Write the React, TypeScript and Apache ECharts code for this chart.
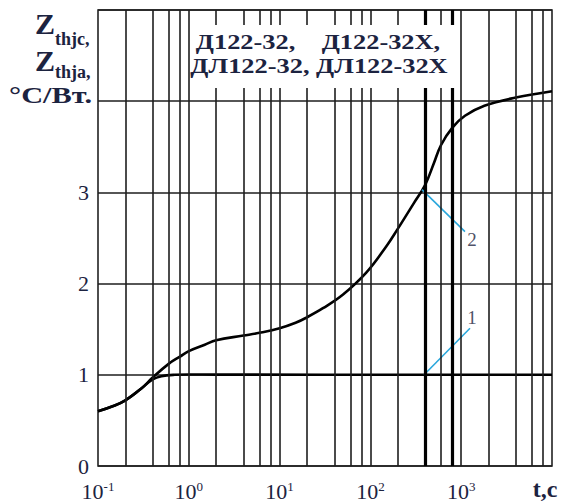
import React, { useEffect, useRef } from "react";
import * as echarts from "echarts";

// Curve 2 (upper curve): time, s -> Z, °C/W
const curve2T = [0.1, 0.15, 0.2, 0.3, 0.4, 0.6, 0.8, 1, 1.5, 2, 4, 6, 10, 15, 20, 30, 50, 90, 150, 200, 300, 400, 500, 600, 800, 1100, 1800, 4000, 10000];
const curve2Z = [0.6, 0.66, 0.72, 0.85, 0.97, 1.12, 1.2, 1.26, 1.33, 1.38, 1.43, 1.46, 1.51, 1.57, 1.63, 1.73, 1.88, 2.12, 2.41, 2.6, 2.88, 3.08, 3.32, 3.52, 3.71, 3.84, 3.95, 4.04, 4.11];
// Curve 1 (lower curve)
const curve1T = [0.1, 0.15, 0.2, 0.3, 0.4, 0.5, 0.7, 1, 2, 10000];
const curve1Z = [0.6, 0.66, 0.72, 0.85, 0.95, 0.985, 1.0, 1.003, 1.002, 1.0];

// vertical grid lines (log scale, 1-2-4-6-8 per decade)
const gridTimes = [0.2, 0.4, 0.6, 0.8, 1, 2, 4, 6, 8, 10, 20, 40, 60, 80, 100, 200, 600, 1000, 2000, 4000, 6000, 8000];
const boldTimes = [400, 800];

// leader lines for curve labels
const leader1T = [390, 1250];
const leader1Z = [1.0, 1.51];
const leader2T = [370, 1100];
const leader2Z = [3.03, 2.57];
const labelNames = ["1", "2"];
const labelT = [1315, 1315];
const labelZ = [1.63, 2.48];

const yTickLabels = ["0", "1", "2", "3"];
const titleLine1 = "Д122-32,    Д122-32X,";
const titleLine2 = "ДЛ122-32, ДЛ122-32X";

const SERIF = '"Liberation Serif", "Times New Roman", serif';
const INK = "#1c2340";

export default function App() {
  const ref = useRef<HTMLDivElement>(null);
  useEffect(() => {
    if (!ref.current) return;
    const chart = echarts.init(ref.current, null, { renderer: "svg" });
    const gridColor = "#1e1e1e";
    chart.setOption({
      animation: false,
      backgroundColor: "#ffffff",
      grid: {
        left: 98,
        right: 16,
        top: 10,
        bottom: 36,
        show: true,
        borderColor: "#222",
        borderWidth: 1.6,
      },
      xAxis: {
        type: "log",
        logBase: 10,
        min: 0.1,
        max: 10000,
        axisLine: { show: false },
        axisTick: { show: false },
        splitLine: { show: false },
        minorSplitLine: { show: false },
        axisLabel: {
          margin: 14,
          formatter: (v: number) => {
            const e = Math.round(Math.log10(v));
            if (e >= 4) return "";
            return `{b|10}{s|${e}}`;
          },
          rich: {
            b: { fontFamily: SERIF, fontSize: 22, color: INK, lineHeight: 22 },
            s: { fontFamily: SERIF, fontSize: 13, color: INK, verticalAlign: "top", lineHeight: 13 },
          },
        },
      },
      yAxis: {
        type: "value",
        min: 0,
        max: 5,
        interval: 1,
        axisLine: { show: false },
        axisTick: { show: false },
        splitLine: { show: true, lineStyle: { color: gridColor, width: 1.6 } },
        axisLabel: {
          margin: 9,
          fontFamily: SERIF,
          fontSize: 22,
          color: INK,
          formatter: (v: number) => (v < yTickLabels.length ? yTickLabels[v] : ""),
        },
      },
      series: [
        {
          type: "line",
          z: 1,
          data: [[0.1, 0]],
          symbol: "none",
          lineStyle: { opacity: 0 },
          silent: true,
          markLine: {
            silent: true,
            symbol: ["none", "none"],
            label: { show: false },
            lineStyle: { color: gridColor, width: 1.6, type: "solid" },
            data: [
              ...gridTimes.map((t) => ({ xAxis: t })),
              ...boldTimes.map((t) => ({ xAxis: t, lineStyle: { color: "#000", width: 3.2, type: "solid" } })),
            ],
          },
        },
        {
          type: "line",
          z: 3,
          smooth: 0.4,
          symbol: "none",
          lineStyle: { color: "#000", width: 2.6 },
          data: curve1T.map((t, i) => [t, curve1Z[i]]),
        },
        {
          type: "line",
          z: 3,
          smooth: 0.4,
          symbol: "none",
          lineStyle: { color: "#000", width: 2.6 },
          data: curve2T.map((t, i) => [t, curve2Z[i]]),
        },
        {
          type: "line",
          z: 4,
          symbol: "none",
          lineStyle: { color: "#2aa7dc", width: 1.6 },
          data: leader1T.map((t, i) => [t, leader1Z[i]]),
        },
        {
          type: "line",
          z: 4,
          symbol: "none",
          lineStyle: { color: "#2aa7dc", width: 1.6 },
          data: leader2T.map((t, i) => [t, leader2Z[i]]),
        },
        {
          type: "scatter",
          z: 5,
          symbolSize: 0,
          label: {
            show: true,
            position: "inside",
            fontFamily: SERIF,
            fontSize: 19,
            color: INK,
            formatter: (p: any) => labelNames[p.dataIndex],
          },
          data: labelT.map((t, i) => [t, labelZ[i]]),
        },
      ],
      graphic: [
        {
          type: "rect",
          z: 100,
          shape: { x: 191, y: 25, width: 267, height: 63 },
          style: { fill: "#ffffff" },
        },
        {
          type: "text",
          z: 101,
          x: 318,
          y: 41,
          scaleX: 1.2,
          style: { text: titleLine1, font: `bold 22px ${SERIF}`, fill: INK, align: "center", verticalAlign: "middle" },
        },
        {
          type: "text",
          z: 101,
          x: 319,
          y: 65.5,
          scaleX: 1.2,
          style: { text: titleLine2, font: `bold 22px ${SERIF}`, fill: INK, align: "center", verticalAlign: "middle" },
        },
        {
          type: "text",
          z: 101,
          x: 35,
          y: 23,
          style: { text: "Z", font: `bold 30px ${SERIF}`, fill: INK, align: "left", verticalAlign: "middle" },
        },
        {
          type: "text",
          z: 101,
          x: 55,
          y: 39,
          style: { text: "thjc,", font: `bold 18px ${SERIF}`, fill: INK, align: "left", verticalAlign: "middle" },
        },
        {
          type: "text",
          z: 101,
          x: 35,
          y: 60,
          style: { text: "Z", font: `bold 30px ${SERIF}`, fill: INK, align: "left", verticalAlign: "middle" },
        },
        {
          type: "text",
          z: 101,
          x: 55,
          y: 72,
          style: { text: "thja,", font: `bold 18px ${SERIF}`, fill: INK, align: "left", verticalAlign: "middle" },
        },
        {
          type: "text",
          z: 101,
          x: 92,
          y: 95.5,
          scaleX: 1.32,
          style: { text: "°C/Вт.", font: `bold 23px ${SERIF}`, fill: INK, align: "right", verticalAlign: "middle" },
        },
        {
          type: "text",
          z: 101,
          x: 545,
          y: 489,
          style: { text: "t,c", font: `bold 24px ${SERIF}`, fill: INK, align: "center", verticalAlign: "middle" },
        },
      ],
    });
    return () => chart.dispose();
  }, []);
  return (
    <div
      ref={ref}
      style={{ position: "absolute", left: 0, top: 0, width: 568, height: 502 }}
    />
  );
}
